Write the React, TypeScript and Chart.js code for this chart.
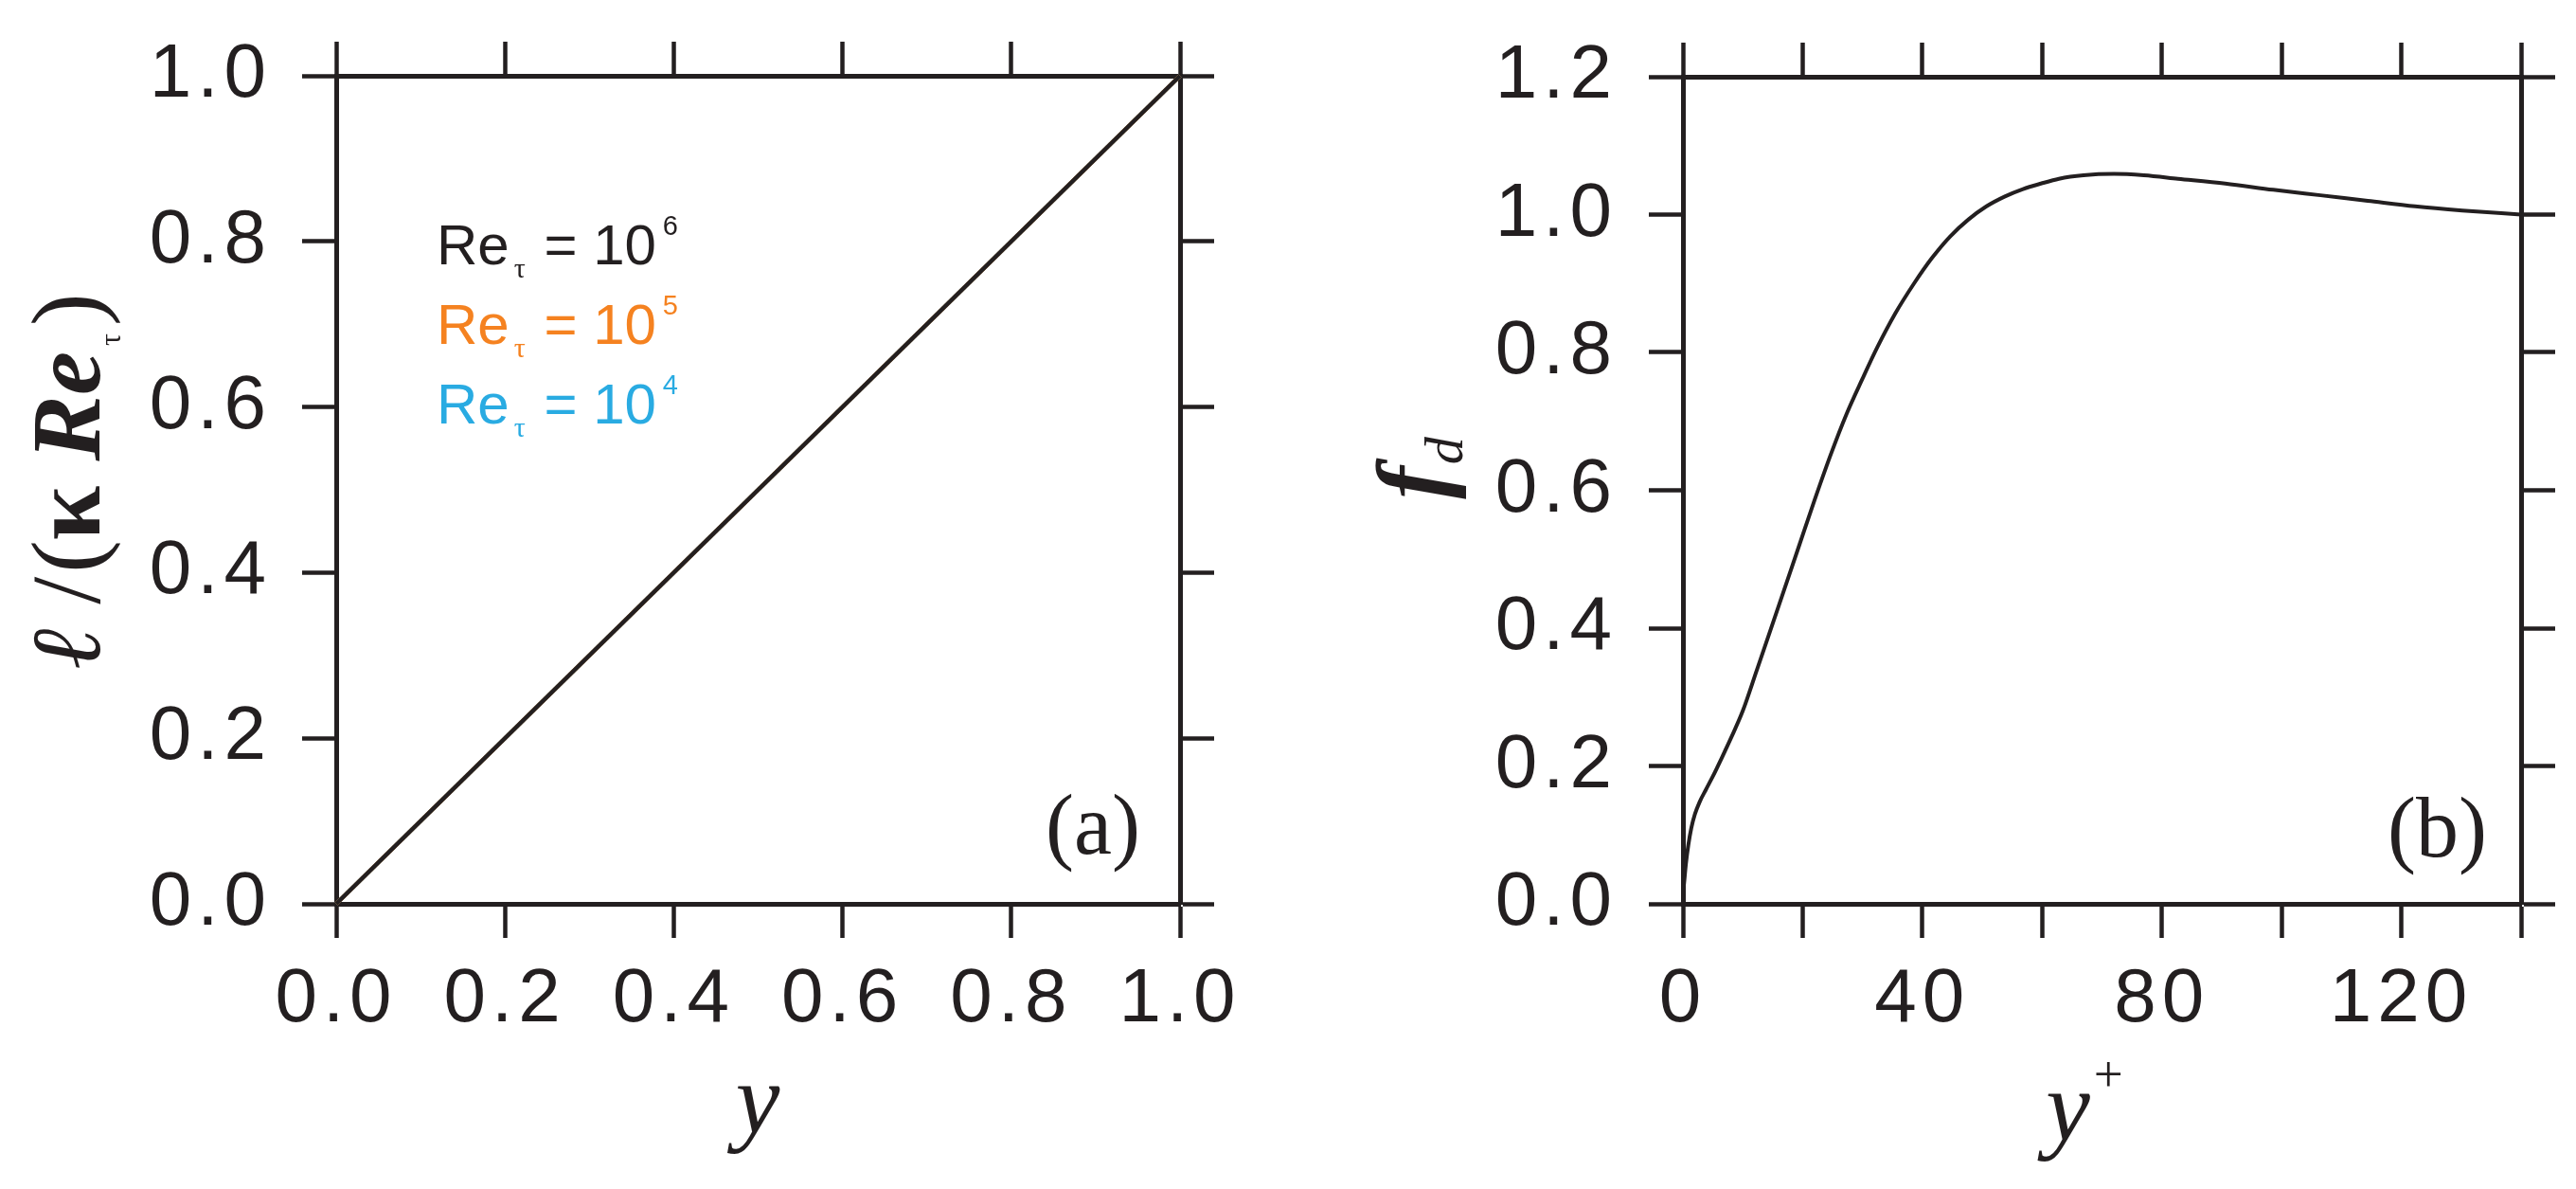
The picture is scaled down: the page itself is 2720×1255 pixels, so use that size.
import React, { useEffect, useRef } from 'react';
import { Chart, registerables } from 'chart.js';

Chart.register(...registerables);

const INK = '#231f20';
const ORANGE = '#f58220';
const CYAN = '#29abe2';

// ---------- Panel (a): mixing length ----------
const outerY = [0, 1];
const lengthRe1e6 = [0, 1];
const lengthRe1e5 = [0, 1];
const lengthRe1e4 = [0, 1];
const panelAXTicks = [0, 0.2, 0.4, 0.6, 0.8, 1.0];
const panelAXTickLabels = ['0.0', '0.2', '0.4', '0.6', '0.8', '1.0'];
const panelAYTicks = [0, 0.2, 0.4, 0.6, 0.8, 1.0];
const panelAYTickLabels = ['0.0', '0.2', '0.4', '0.6', '0.8', '1.0'];
const legendExponents = ['6', '5', '4'];
const legendColors = [INK, ORANGE, CYAN];

// ---------- Panel (b): damping function ----------
const yPlus = [0, 0.1, 0.25, 0.5, 0.9, 1.4, 2.0, 2.8, 3.8, 5.0, 6.5, 8.0, 10.0, 12.3, 14.5, 17, 19.5, 22, 24.7, 27.3, 30, 32.5, 35.5, 38.6, 41.6, 44.6, 47.7, 50.7, 53.7, 56.8, 59.8, 62.8, 66.9, 72, 77, 82.7, 90.6, 98.6, 106.5, 114.4, 122.3, 130.2, 140];
const fdValues = [0, 0.02, 0.035, 0.058, 0.085, 0.11, 0.13, 0.148, 0.165, 0.185, 0.212, 0.24, 0.28, 0.338, 0.394, 0.458, 0.522, 0.586, 0.652, 0.71, 0.762, 0.808, 0.857, 0.9, 0.937, 0.968, 0.993, 1.012, 1.026, 1.037, 1.045, 1.052, 1.057, 1.059, 1.057, 1.052, 1.045, 1.036, 1.028, 1.02, 1.012, 1.006, 1.0];
const panelBXTicks = [0, 20, 40, 60, 80, 100, 120, 140];
const panelBXTickLabels = ['0', '', '40', '', '80', '', '120', ''];
const panelBYTicks = [0, 0.2, 0.4, 0.6, 0.8, 1.0, 1.2];
const panelBYTickLabels = ['0.0', '0.2', '0.4', '0.6', '0.8', '1.0', '1.2'];

const SERIF = '"Liberation Serif", "Times New Roman", serif';
const SANS = '"Liberation Sans", Arial, sans-serif';
const TICK_FAMILY = '"Liberation Sans", Arial, sans-serif';

type Run = { text: string; font: string; dx?: number; dy?: number };
type RichLabel = { runs: Run[]; x: number; y: number; color: string; align: 'left' | 'center' | 'right'; rotate?: boolean };

function drawRich(ctx: CanvasRenderingContext2D, item: RichLabel) {
  ctx.save();
  (ctx as any).letterSpacing = '0px';
  ctx.fillStyle = item.color;
  ctx.textBaseline = 'alphabetic';
  ctx.textAlign = 'left';
  ctx.translate(item.x, item.y);
  if (item.rotate) ctx.rotate(-Math.PI / 2);
  const widths = item.runs.map((r) => {
    ctx.font = r.font;
    return ctx.measureText(r.text).width;
  });
  let total = 0;
  item.runs.forEach((r, i) => {
    total += (r.dx || 0) + widths[i];
  });
  let x = item.align === 'center' ? -total / 2 : item.align === 'right' ? -total : 0;
  item.runs.forEach((r, i) => {
    x += r.dx || 0;
    ctx.font = r.font;
    ctx.fillText(r.text, x, r.dy || 0);
    x += widths[i];
  });
  ctx.restore();
}

function richTextPlugin(labels: RichLabel[]) {
  return {
    id: 'richText',
    beforeDraw(chart: any) {
      chart.ctx.letterSpacing = '6px';
    },
    afterDraw(chart: any) {
      labels.forEach((l) => drawRich(chart.ctx, l));
    },
  };
}

type Frame = {
  xMin: number; xMax: number; yMin: number; yMax: number;
  xTicks: number[]; xLabels: string[]; yTicks: number[]; yLabels: string[];
  left: number; right: number; top: number; bottom: number; yPad: number;
};

function frameScales(f: Frame) {
  const grid = () => ({
    display: true,
    drawOnChartArea: false,
    drawTicks: true,
    tickLength: 36,
    tickWidth: 4.5,
    tickColor: INK,
    color: INK,
  });
  const border = () => ({ display: true, width: 5, color: INK });
  const font = { family: TICK_FAMILY, size: 80 };
  const setTicks = (vals: number[]) => (scale: any) => {
    scale.ticks = vals.map((v) => ({ value: v }));
  };
  const labelFor = (vals: number[], labels: string[]) => (value: any) => {
    const i = vals.findIndex((v) => Math.abs(v - Number(value)) < 1e-9);
    return i >= 0 ? labels[i] : '';
  };
  return {
    x: {
      type: 'linear', position: 'bottom', min: f.xMin, max: f.xMax,
      grid: grid(), border: border(),
      ticks: { font, color: INK, padding: 18, maxRotation: 0, minRotation: 0, autoSkip: false, callback: labelFor(f.xTicks, f.xLabels) },
      afterBuildTicks: setTicks(f.xTicks),
      afterFit: (s: any) => { s.height = f.bottom; },
    },
    xTop: {
      type: 'linear', position: 'top', min: f.xMin, max: f.xMax,
      grid: grid(), border: border(),
      ticks: { display: false },
      afterBuildTicks: setTicks(f.xTicks),
      afterFit: (s: any) => { s.height = f.top; },
    },
    y: {
      type: 'linear', position: 'left', min: f.yMin, max: f.yMax,
      grid: grid(), border: border(),
      ticks: { font, color: INK, padding: f.yPad, autoSkip: false, callback: labelFor(f.yTicks, f.yLabels) },
      afterBuildTicks: setTicks(f.yTicks),
      afterFit: (s: any) => { s.width = f.left; },
    },
    yRight: {
      type: 'linear', position: 'right', min: f.yMin, max: f.yMax,
      grid: grid(), border: border(),
      ticks: { display: false },
      afterBuildTicks: setTicks(f.yTicks),
      afterFit: (s: any) => { s.width = f.right; },
    },
  };
}

const CANVAS_H = 1255;
const LEFT_W = 1400;
const RIGHT_W = 1320;

function leftLabels(): RichLabel[] {
  const legend: RichLabel[] = legendExponents.map((exp, i) => ({
    runs: [
      { text: 'Re', font: `60px ${SANS}` },
      { text: 'τ', font: `30px ${SERIF}`, dx: 5, dy: 14 },
      { text: ' = 10', font: `60px ${SANS}`, dx: 3 },
      { text: exp, font: `29px ${SANS}`, dx: 7, dy: -31 },
    ],
    x: 461,
    y: 279 + 84 * i,
    color: legendColors[i],
    align: 'left',
  }));
  return [
    ...legend,
    { runs: [{ text: '(a)', font: `90px ${SERIF}` }], x: 1204, y: 901, color: INK, align: 'right' },
    { runs: [{ text: 'y', font: `italic 105px ${SERIF}` }], x: 800, y: 1195, color: INK, align: 'center' },
    {
      runs: [
        { text: 'ℓ', font: `italic 104px ${SERIF}` },
        { text: ' /', font: `104px ${SERIF}` },
        { text: '(', font: `104px ${SERIF}`, dx: 4 },
        { text: 'κ', font: `bold 104px ${SERIF}` },
        { text: ' ', font: `104px ${SERIF}` },
        { text: 'Re', font: `bold italic 104px ${SERIF}` },
        { text: 'τ', font: `32px ${SERIF}`, dx: 6, dy: 22 },
        { text: ')', font: `104px ${SERIF}`, dx: 8 },
      ],
      x: 105,
      y: 707,
      color: INK,
      align: 'left',
      rotate: true,
    },
  ];
}

function rightLabels(): RichLabel[] {
  return [
    { runs: [{ text: '(b)', font: `90px ${SERIF}` }], x: 1226, y: 904, color: INK, align: 'right' },
    {
      runs: [
        { text: 'y', font: `italic 105px ${SERIF}` },
        { text: '+', font: `55px ${SERIF}`, dx: 4, dy: -51 },
      ],
      x: 801,
      y: 1203,
      color: INK,
      align: 'center',
    },
    {
      runs: [
        { text: 'f', font: `bold italic 104px ${SERIF}` },
        { text: 'd', font: `italic 58px ${SERIF}`, dx: 2, dy: 18 },
      ],
      x: 126,
      y: 494,
      color: INK,
      align: 'center',
      rotate: true,
    },
  ];
}

function PanelA() {
  const ref = useRef<HTMLCanvasElement | null>(null);
  useEffect(() => {
    if (!ref.current) return;
    const pts = (ys: number[]) => outerY.map((x, i) => ({ x, y: ys[i] }));
    const line = (data: any, color: string) => ({
      data, borderColor: color, backgroundColor: color, borderWidth: 4.5,
      pointRadius: 0, fill: false, tension: 0, clip: false,
    });
    const chart = new Chart(ref.current, {
      type: 'line',
      data: {
        datasets: [
          line(pts(lengthRe1e6), INK),
          line(pts(lengthRe1e5), ORANGE),
          line(pts(lengthRe1e4), CYAN),
        ] as any,
      },
      options: {
        responsive: false,
        animation: false,
        devicePixelRatio: 1,
        layout: { padding: 0 },
        plugins: { legend: { display: false }, tooltip: { enabled: false }, title: { display: false } },
        scales: frameScales({
          xMin: 0, xMax: 1, yMin: 0, yMax: 1,
          xTicks: panelAXTicks, xLabels: panelAXTickLabels,
          yTicks: panelAYTicks, yLabels: panelAYTickLabels,
          left: 355, right: LEFT_W - 1246, top: 62, bottom: CANVAS_H - 954, yPad: 32,
        }) as any,
      },
      plugins: [richTextPlugin(leftLabels())],
    });
    return () => chart.destroy();
  }, []);
  return <canvas ref={ref} width={LEFT_W} height={CANVAS_H} style={{ position: 'absolute', left: 0, top: 0, display: 'block' }} />;
}

function PanelB() {
  const ref = useRef<HTMLCanvasElement | null>(null);
  useEffect(() => {
    if (!ref.current) return;
    const chart = new Chart(ref.current, {
      type: 'line',
      data: {
        datasets: [
          {
            data: yPlus.map((x, i) => ({ x, y: fdValues[i] })),
            borderColor: INK, backgroundColor: INK, borderWidth: 4,
            pointRadius: 0, fill: false, cubicInterpolationMode: 'monotone', clip: false,
          },
        ] as any,
      },
      options: {
        responsive: false,
        animation: false,
        devicePixelRatio: 1,
        layout: { padding: 0 },
        plugins: { legend: { display: false }, tooltip: { enabled: false }, title: { display: false } },
        scales: frameScales({
          xMin: 0, xMax: 140, yMin: 0, yMax: 1.2,
          xTicks: panelBXTicks, xLabels: panelBXTickLabels,
          yTicks: panelBYTicks, yLabels: panelBYTickLabels,
          left: 1777 - 1400, right: RIGHT_W - (2662 - 1400), top: 71, bottom: CANVAS_H - 954, yPad: 33,
        }) as any,
      },
      plugins: [richTextPlugin(rightLabels())],
    });
    return () => chart.destroy();
  }, []);
  return <canvas ref={ref} width={RIGHT_W} height={CANVAS_H} style={{ position: 'absolute', left: LEFT_W, top: 0, display: 'block' }} />;
}

export default function App() {
  return (
    <div style={{ position: 'absolute', left: 0, top: 0, width: 2720, height: CANVAS_H, background: '#ffffff', overflow: 'hidden' }}>
      <PanelA />
      <PanelB />
    </div>
  );
}
